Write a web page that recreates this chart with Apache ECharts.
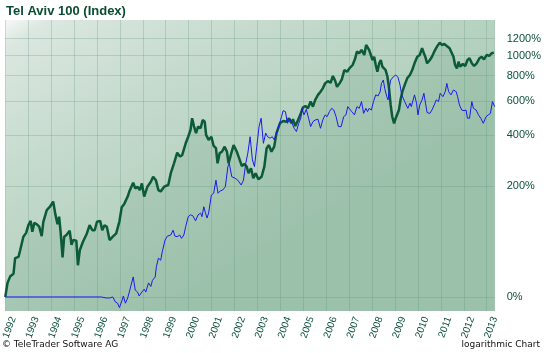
<!DOCTYPE html>
<html>
<head>
<meta charset="utf-8">
<script src="https://cdn.jsdelivr.net/npm/echarts@6/dist/echarts.min.js"></script>
<style>
html, body { margin: 0; padding: 0; background: #fff; }
#chart { width: 544px; height: 353px; }
</style>
</head>
<body>
<div id="chart"></div>
<script>
// Tel Aviv 100, performance in % since start of 1992
var greenYears = [1992.00,1992.10,1992.22,1992.36,1992.43,1992.58,1992.65,1992.79,1992.91,1993.01,1993.11,1993.18,1993.27,1993.37,1993.48,1993.59,1993.66,1993.81,1993.95,1994.09,1994.19,1994.28,1994.35,1994.42,1994.50,1994.57,1994.67,1994.81,1994.89,1994.96,1995.10,1995.17,1995.25,1995.39,1995.56,1995.68,1995.80,1995.90,1996.00,1996.14,1996.23,1996.33,1996.43,1996.55,1996.69,1996.84,1996.98,1997.08,1997.19,1997.34,1997.41,1997.58,1997.67,1997.77,1997.87,1997.96,1998.06,1998.20,1998.35,1998.45,1998.57,1998.68,1998.78,1998.93,1999.11,1999.22,1999.36,1999.50,1999.62,1999.72,1999.87,1999.98,2000.08,2000.15,2000.23,2000.32,2000.41,2000.52,2000.61,2000.70,2000.76,2000.87,2000.99,2001.09,2001.19,2001.26,2001.35,2001.45,2001.57,2001.67,2001.74,2001.86,2001.96,2002.10,2002.20,2002.32,2002.43,2002.53,2002.61,2002.72,2002.82,2002.92,2003.04,2003.18,2003.30,2003.40,2003.50,2003.61,2003.73,2003.83,2003.98,2004.12,2004.26,2004.37,2004.48,2004.55,2004.65,2004.77,2004.89,2004.99,2005.09,2005.20,2005.32,2005.42,2005.52,2005.64,2005.75,2005.85,2005.95,2006.07,2006.19,2006.29,2006.39,2006.47,2006.58,2006.68,2006.79,2006.91,2007.01,2007.15,2007.25,2007.34,2007.44,2007.54,2007.66,2007.74,2007.87,2007.94,2008.02,2008.09,2008.16,2008.23,2008.31,2008.38,2008.45,2008.52,2008.59,2008.67,2008.74,2008.81,2008.88,2008.96,2009.03,2009.10,2009.17,2009.24,2009.32,2009.42,2009.53,2009.65,2009.75,2009.85,2009.97,2010.08,2010.18,2010.26,2010.33,2010.40,2010.52,2010.61,2010.71,2010.83,2010.95,2011.05,2011.15,2011.26,2011.38,2011.48,2011.55,2011.62,2011.70,2011.77,2011.84,2011.96,2012.06,2012.16,2012.25,2012.35,2012.45,2012.56,2012.68,2012.78,2012.88,2013.00,2013.11,2013.21,2013.31];
var greenPct = [0,15,23,26,47,49,59,82,89,104,113,91,109,106,101,83,111,137,145,158,126,106,122,88,48,82,85,93,68,76,75,37,59,73,88,104,94,94,111,113,94,104,101,76,82,88,112,144,152,171,185,211,194,199,189,209,171,199,214,230,219,189,185,199,204,242,277,319,303,310,360,391,425,490,446,409,443,434,480,470,400,376,391,348,338,277,317,323,345,323,277,317,352,323,297,267,275,265,242,259,225,242,222,230,265,338,352,323,345,409,461,474,470,490,461,484,446,480,519,558,566,551,596,562,608,644,668,694,734,753,739,798,756,706,734,768,852,836,868,901,959,1043,1025,1063,1006,1121,1063,1071,952,986,901,836,918,952,884,868,852,791,694,573,499,461,490,499,540,608,668,720,777,807,852,918,986,1006,1083,1025,980,918,952,986,1043,1101,1150,1121,1134,1109,1083,1025,986,901,868,934,884,911,891,952,970,918,891,918,970,986,959,1006,995,1025,1032];

// comparison line (blue), flat until it starts in 1996
var blueYears = [1992.00,1996.19,1996.40,1996.55,1996.69,1996.81,1996.90,1996.98,1997.10,1997.15,1997.24,1997.34,1997.41,1997.58,1997.67,1997.77,1997.84,1997.96,1998.06,1998.13,1998.25,1998.35,1998.42,1998.54,1998.59,1998.68,1998.78,1998.85,1998.97,1999.07,1999.22,1999.32,1999.40,1999.50,1999.61,1999.69,1999.79,1999.87,1999.98,2000.08,2000.18,2000.30,2000.41,2000.52,2000.58,2000.66,2000.73,2000.80,2000.87,2000.99,2001.09,2001.19,2001.28,2001.38,2001.48,2001.60,2001.71,2001.77,2001.88,2002.03,2002.14,2002.29,2002.39,2002.49,2002.58,2002.68,2002.78,2002.87,2002.97,2003.07,2003.16,2003.26,2003.36,2003.44,2003.55,2003.65,2003.73,2003.83,2003.94,2004.05,2004.12,2004.22,2004.31,2004.41,2004.51,2004.60,2004.70,2004.80,2004.89,2004.94,2005.03,2005.13,2005.23,2005.32,2005.42,2005.52,2005.64,2005.75,2005.85,2005.95,2006.04,2006.14,2006.24,2006.33,2006.43,2006.53,2006.65,2006.76,2006.86,2006.94,2007.01,2007.11,2007.23,2007.34,2007.44,2007.54,2007.63,2007.73,2007.80,2007.87,2007.97,2008.06,2008.16,2008.26,2008.35,2008.41,2008.49,2008.55,2008.64,2008.70,2008.75,2008.81,2008.93,2009.03,2009.13,2009.22,2009.29,2009.36,2009.42,2009.50,2009.56,2009.65,2009.71,2009.79,2009.85,2009.94,2010.00,2010.08,2010.18,2010.26,2010.33,2010.40,2010.52,2010.61,2010.71,2010.80,2010.90,2010.97,2011.09,2011.19,2011.26,2011.34,2011.44,2011.55,2011.67,2011.73,2011.81,2011.91,2012.01,2012.10,2012.16,2012.25,2012.35,2012.42,2012.54,2012.64,2012.74,2012.85,2012.97,2013.07,2013.16,2013.25,2013.35];
var bluePct = [0,0,-1,-1,0,-5,-6,-10,-3,1,-6,-1,5,22,7,5,1,5,8,5,15,11,18,22,35,47,44,57,76,83,85,94,83,82,85,79,85,101,122,126,124,113,126,130,122,145,131,119,130,175,180,219,180,187,189,199,265,277,230,225,219,204,219,277,317,391,290,265,345,443,490,360,409,391,384,391,376,409,452,499,536,530,461,490,461,434,417,461,490,551,510,545,490,443,470,480,484,434,480,510,499,530,551,540,499,443,443,499,510,562,566,530,510,562,551,596,519,551,530,551,540,596,644,636,668,734,762,694,631,608,694,762,791,807,786,720,644,620,596,608,551,585,562,608,644,585,510,573,608,656,585,524,519,540,573,608,596,656,631,668,734,668,644,681,668,631,573,540,536,540,490,490,596,551,540,510,490,461,499,510,519,596,562];

var yTickPct = [0, 200, 400, 600, 800, 1000, 1200];
var xYears = [1992,1993,1994,1995,1996,1997,1998,1999,2000,2001,2002,2003,2004,2005,2006,2007,2008,2009,2010,2011,2012,2013];

var txtGreen = '#0d5238';
var gridColor = 'rgba(110,160,135,0.32)';

function toPoints(xs, ps) {
    return xs.map(function (x, i) { return [x, 100 + ps[i]]; });
}

var chart = echarts.init(document.getElementById('chart'));
chart.setOption({
    animation: false,
    backgroundColor: '#fff',
    grid: {
        left: 5, right: 46, top: 20, bottom: 42,
        show: true,
        borderWidth: 0,
        backgroundColor: {
            type: 'linear', x: 0, y: 0, x2: 0.35, y2: 1,
            colorStops: [
                { offset: 0, color: '#f6f8f7' },
                { offset: 0.07, color: '#dbe7e0' },
                { offset: 0.45, color: '#c2d9cb' },
                { offset: 1, color: '#aacbb6' }
            ]
        }
    },
    xAxis: [{
        type: 'value', min: 1992, max: 2013.35, interval: 1,
        axisLine: { show: false }, axisTick: { show: false },
        axisLabel: { show: false },
        splitLine: { show: true, lineStyle: { color: gridColor, width: 1 } }
    }, {
        // label axis, shifted so the years sit a little right of their gridline
        type: 'value', min: 1991.65, max: 2013.0, position: 'bottom',
        axisLine: { show: false }, axisTick: { show: false },
        splitLine: { show: false },
        axisLabel: {
            customValues: xYears,
            rotate: 70, margin: 6,
            color: txtGreen, fontFamily: 'Liberation Sans', fontSize: 10,
            formatter: function (v) { return String(v); }
        }
    }],
    yAxis: {
        type: 'log', logBase: 10, min: 87, max: 1565, position: 'right',
        axisLine: { show: false },
        axisTick: { show: false, customValues: yTickPct.map(function (p) { return 100 + p; }) },
        axisLabel: {
            customValues: yTickPct.map(function (p) { return 100 + p; }),
            margin: 12,
            color: txtGreen, fontFamily: 'Liberation Sans', fontSize: 11,
            formatter: function (v) { return Math.round(v - 100) + '%'; }
        },
        splitLine: { show: true, lineStyle: { color: gridColor, width: 1 } }
    },
    series: [{
        name: 'Tel Aviv 100',
        type: 'line',
        xAxisIndex: 0,
        data: toPoints(greenYears, greenPct),
        showSymbol: false,
        lineStyle: { color: '#0b5a3a', width: 2.5 },
        areaStyle: { origin: 'start', color: 'rgba(40,115,75,0.16)' },
        z: 2
    }, {
        name: 'compare',
        type: 'line',
        xAxisIndex: 0,
        data: toPoints(blueYears, bluePct),
        showSymbol: false,
        lineStyle: { color: '#1a1af0', width: 1 },
        z: 3
    }],
    graphic: [{
        type: 'text', left: 6, top: 5,
        style: { text: 'Tel Aviv 100 (Index)', fill: '#0b4d33', font: 'bold 13px "Liberation Sans"' }
    }, {
        type: 'text', left: 2, top: 340,
        style: { text: '\u00a9 TeleTrader Software AG', fill: '#111', font: '9px "DejaVu Sans"' }
    }, {
        type: 'text', right: 4, top: 340,
        style: { text: 'logarithmic Chart', fill: '#111', font: '9px "DejaVu Sans"' }
    }]
});
</script>
</body>
</html>
